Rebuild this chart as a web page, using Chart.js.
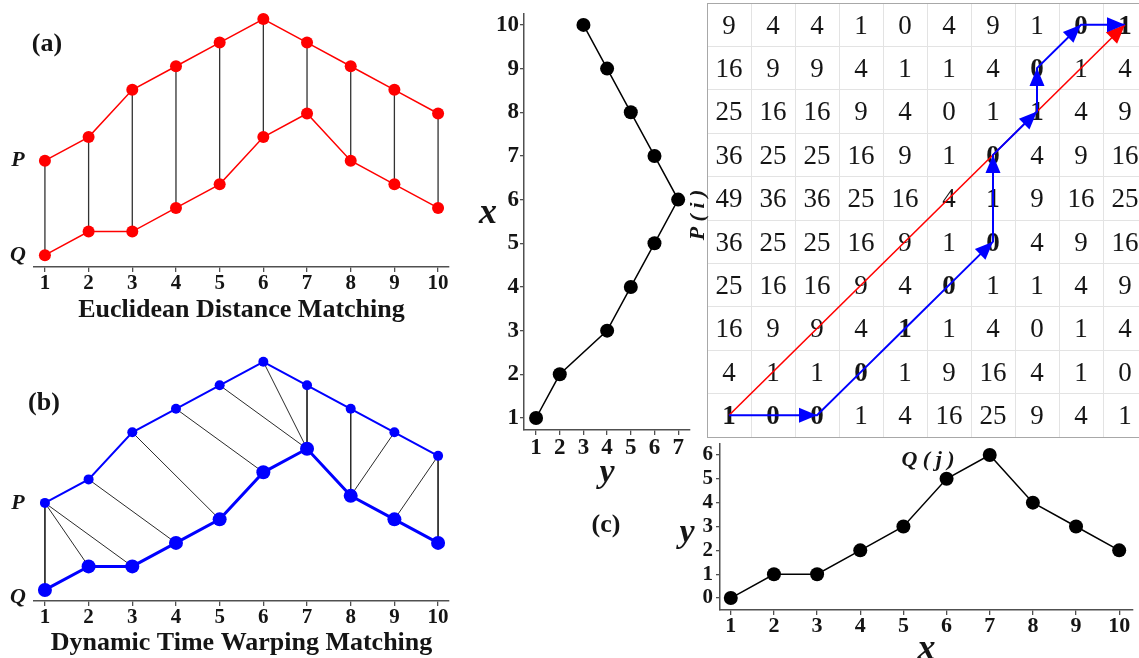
<!DOCTYPE html>
<html><head><meta charset="utf-8">
<script src="https://cdn.jsdelivr.net/npm/chart.js@4.4.1/dist/chart.umd.min.js"></script>
<style>
html,body{margin:0;padding:0;background:#fff;overflow:hidden;width:1139px;height:658px;position:relative;}
canvas{position:absolute;}
</style></head><body>
<canvas id="ca" width="460" height="330" style="left:0;top:0"></canvas>
<canvas id="cb" width="460" height="318" style="left:0;top:340px"></canvas>
<canvas id="cm" width="245" height="560" style="left:460px;top:0"></canvas>
<canvas id="cg" width="460" height="445" style="left:690px;top:0"></canvas>
<canvas id="cq" width="500" height="250" style="left:640px;top:430px"></canvas>
<script>
// ---------- data ----------
const idx = [1, 2, 3, 4, 5, 6, 7, 8, 9, 10];
const P = [1, 2, 4, 5, 6, 7, 6, 5, 4, 3];
const Q = [0, 1, 1, 2, 3, 5, 6, 4, 3, 2];
const idxTicks = [1, 2, 3, 4, 5, 6, 7, 8, 9, 10];
const pTicks = [1, 2, 3, 4, 5, 6, 7];
const qTicks = [0, 1, 2, 3, 4, 5, 6];
// DTW warping path (P index i, Q index j)
const dtwP = [1, 1, 1, 2, 3, 4, 5, 6, 7, 8, 9, 10, 10];
const dtwQ = [1, 2, 3, 4, 5, 6, 7, 7, 7, 8, 8, 9, 10];
const dtwArrowAt = [2, 6, 8, 9, 10, 11, 12];
// distance matrix rows, i = 1 (bottom) .. 10 (top), columns j = 1..10
const distRows = [
  [1, 0, 0, 1, 4, 16, 25, 9, 4, 1],
  [4, 1, 1, 0, 1, 9, 16, 4, 1, 0],
  [16, 9, 9, 4, 1, 1, 4, 0, 1, 4],
  [25, 16, 16, 9, 4, 0, 1, 1, 4, 9],
  [36, 25, 25, 16, 9, 1, 0, 4, 9, 16],
  [49, 36, 36, 25, 16, 4, 1, 9, 16, 25],
  [36, 25, 25, 16, 9, 1, 0, 4, 9, 16],
  [25, 16, 16, 9, 4, 0, 1, 1, 4, 9],
  [16, 9, 9, 4, 1, 1, 4, 0, 1, 4],
  [9, 4, 4, 1, 0, 4, 9, 1, 0, 1]
];
const gridEdges = [0.5, 1.5, 2.5, 3.5, 4.5, 5.5, 6.5, 7.5, 8.5, 9.5, 10.5];
const SHIFT_A = 3;     // vertical display offset of P in panel (a)
const SHIFT_B = 2.7;   // vertical display offset of P in panel (b)

// ---------- style ----------
const SERIF = '"Liberation Serif","Times New Roman",serif';
const AX = '#505050';
const TXT = '#151515';
Chart.defaults.font.family = SERIF;

// ---------- plugins ----------
const textPlugin = {
  id: 'texts',
  afterDraw(chart, args, opts) {
    const ctx = chart.ctx;
    (opts.items || []).forEach(t => {
      let y = t.y;
      if (t.yv !== undefined) y = chart.scales.y.getPixelForValue(t.yv);
      ctx.save();
      ctx.font = t.font;
      ctx.fillStyle = t.color || TXT;
      ctx.textAlign = t.align || 'center';
      ctx.textBaseline = 'middle';
      ctx.translate(t.x, y);
      if (t.rot) ctx.rotate(t.rot);
      ctx.fillText(t.text, 0, 0);
      ctx.restore();
    });
  }
};
const arrowPlugin = {
  id: 'arrows',
  afterDatasetsDraw(chart) {
    const ctx = chart.ctx;
    chart.data.datasets.forEach((ds, di) => {
      if (!ds.arrowAt) return;
      const meta = chart.getDatasetMeta(di);
      ds.arrowAt.forEach(k => {
        const p = meta.data[k], q = meta.data[k - 1];
        const a = Math.atan2(p.y - q.y, p.x - q.x);
        const L = ds.arrowLen || 16, W = ds.arrowHalf || 7;
        ctx.save();
        ctx.translate(p.x, p.y);
        ctx.rotate(a);
        ctx.beginPath();
        ctx.moveTo(0, 0);
        ctx.lineTo(-L, -W);
        ctx.lineTo(-L, W);
        ctx.closePath();
        ctx.fillStyle = ds.borderColor;
        ctx.fill();
        ctx.restore();
      });
    });
  }
};
const matrixPlugin = {
  id: 'matrix',
  beforeDatasetsDraw(chart, args, opts) {
    if (!opts.rows) return;
    const ctx = chart.ctx, sx = chart.scales.x, sy = chart.scales.y;
    const bold = new Set(dtwP.map((i, k) => i + ',' + dtwQ[k]));
    const size = opts.size || 26;
    ctx.save();
    ctx.fillStyle = TXT;
    ctx.textAlign = 'center';
    ctx.textBaseline = 'alphabetic';
    opts.rows.forEach((row, r) => {
      const i = r + 1;
      row.forEach((v, c) => {
        const j = c + 1;
        ctx.font = (bold.has(i + ',' + j) ? 'bold ' : '') + size + 'px ' + SERIF;
        ctx.fillText(String(v), sx.getPixelForValue(j), sy.getPixelForValue(i) + size * 0.33);
      });
    });
    ctx.restore();
  }
};
Chart.register(textPlugin, arrowPlugin, matrixPlugin);

const setTicks = arr => s => { s.ticks = arr.map(v => ({ value: v })); };
const tickFont = sz => ({ family: SERIF, size: sz, weight: 'bold', lineHeight: 1 });
const axisGrid = tl => ({ display: true, drawOnChartArea: false, drawTicks: true, tickLength: tl, color: AX, lineWidth: 1.3 });
const axisBorder = { display: true, color: AX, width: 1.5 };
const base = { responsive: false, animation: false, events: [], devicePixelRatio: 1 };

function line(data, color, lw, r, order) {
  return { data, showLine: true, borderColor: color, backgroundColor: color, borderWidth: lw,
           pointRadius: r, pointBorderWidth: 0, pointHoverRadius: r, clip: false, order };
}
function connector(a, b, color, lw) {
  return { data: [a, b], showLine: true, borderColor: color, borderWidth: lw, pointRadius: 0, clip: false, order: 5 };
}

// ---------- panel (a) ----------
new Chart(document.getElementById('ca'), {
  type: 'scatter',
  data: { datasets: [
    line(idx.map((x, k) => ({ x, y: P[k] + SHIFT_A })), '#ff0000', 1.5, 6, 0),
    line(idx.map((x, k) => ({ x, y: Q[k] })), '#ff0000', 1.5, 6, 0),
    ...idx.map((x, k) => connector({ x, y: P[k] + SHIFT_A }, { x, y: Q[k] }, '#333333', 1.3))
  ]},
  options: { ...base,
    layout: { padding: { left: 34, top: 5, right: 11, bottom: 0 } },
    plugins: { legend: { display: false }, tooltip: { enabled: false },
      texts: { items: [
        { text: '(a)', x: 47, y: 44, font: 'bold 26px ' + SERIF },
        { text: 'P', x: 18, yv: P[0] + SHIFT_A, font: 'italic bold 22px ' + SERIF },
        { text: 'Q', x: 18, yv: Q[0], font: 'italic bold 22px ' + SERIF }
      ]}
    },
    scales: {
      x: { type: 'linear', min: 0.75, max: 10.25, afterBuildTicks: setTicks(idxTicks),
           afterFit: s => { s.height = 330 - 267; },
           grid: axisGrid(5), border: axisBorder,
           ticks: { font: tickFont(21), color: TXT, padding: 1, autoSkip: false, maxRotation: 0 },
           title: { display: true, text: 'Euclidean Distance Matching', color: TXT,
                    font: { family: SERIF, size: 26, weight: 'bold', lineHeight: 1 }, padding: { top: 0, bottom: 7 } } },
      y: { type: 'linear', display: false, min: -0.5, max: 10.55 }
    }
  }
});

// ---------- panel (b) ----------
new Chart(document.getElementById('cb'), {
  type: 'scatter',
  data: { datasets: [
    line(idx.map((x, k) => ({ x, y: P[k] + SHIFT_B })), '#0000ff', 2, 5, 0),
    line(idx.map((x, k) => ({ x, y: Q[k] })), '#0000ff', 3, 7, 0),
    ...dtwP.map((i, k) => connector({ x: i, y: P[i - 1] + SHIFT_B }, { x: dtwQ[k], y: Q[dtwQ[k] - 1] }, '#2a2a2a', 1))
  ]},
  options: { ...base,
    layout: { padding: { left: 34, top: 10, right: 11, bottom: 0 } },
    plugins: { legend: { display: false }, tooltip: { enabled: false },
      texts: { items: [
        { text: '(b)', x: 44, y: 63, font: 'bold 26px ' + SERIF },
        { text: 'P', x: 18, yv: P[0] + SHIFT_B, font: 'italic bold 22px ' + SERIF },
        { text: 'Q', x: 18, y: 257, font: 'italic bold 22px ' + SERIF }
      ]}
    },
    scales: {
      x: { type: 'linear', min: 0.75, max: 10.25, afterBuildTicks: setTicks(idxTicks),
           afterFit: s => { s.height = 318 - 261; },
           grid: axisGrid(5), border: axisBorder,
           ticks: { font: tickFont(21), color: TXT, padding: 1, autoSkip: false, maxRotation: 0 },
           title: { display: true, text: 'Dynamic Time Warping Matching', color: TXT,
                    font: { family: SERIF, size: 26, weight: 'bold', lineHeight: 1 }, padding: { top: 0, bottom: 2 } } },
      y: { type: 'linear', display: false, min: -0.47, max: 10.2 }
    }
  }
});

// ---------- panel (c) left: P vs index (rotated) ----------
new Chart(document.getElementById('cm'), {
  type: 'scatter',
  data: { datasets: [
    line(idx.map((i, k) => ({ x: P[k], y: i })), '#000000', 1.5, 7, 0)
  ]},
  options: { ...base,
    layout: { padding: { left: 0, top: 14, right: 15, bottom: 0 } },
    plugins: { legend: { display: false }, tooltip: { enabled: false },
      texts: { items: [
        { text: 'x', x: 28, y: 214, font: 'italic bold 36px ' + SERIF },
        { text: '(c)', x: 146, y: 525, font: 'bold 26px ' + SERIF }
      ]}
    },
    scales: {
      x: { type: 'linear', min: 0.49, max: 7.5, afterBuildTicks: setTicks(pTicks),
           afterFit: s => { s.height = 560 - 430; },
           grid: axisGrid(5), border: axisBorder,
           ticks: { font: tickFont(23), color: TXT, padding: 2, autoSkip: false, maxRotation: 0 },
           title: { display: true, text: 'y', color: TXT,
                    font: { family: SERIF, size: 34, weight: 'bold', style: 'italic', lineHeight: 1 }, padding: { top: 0, bottom: 70 } } },
      y: { type: 'linear', min: 0.725, max: 10.25, afterBuildTicks: setTicks(idxTicks),
           afterFit: s => { s.width = 64; },
           grid: axisGrid(4), border: axisBorder,
           ticks: { font: tickFont(23), color: TXT, padding: 1, autoSkip: false } }
    }
  }
});

// ---------- panel (c) matrix ----------
new Chart(document.getElementById('cg'), {
  type: 'scatter',
  data: { datasets: [
    Object.assign(line([{ x: 1, y: 1 }, { x: 10, y: 10 }], '#ff0000', 1.6, 0, 1), { arrowAt: [1], arrowLen: 19, arrowHalf: 8 }),
    Object.assign(line(dtwP.map((i, k) => ({ x: dtwQ[k], y: i })), '#0000ff', 2, 0, 0), { arrowAt: dtwArrowAt, arrowLen: 18, arrowHalf: 7.5 })
  ]},
  options: { ...base,
    layout: { padding: { left: 0, top: 3, right: 3, bottom: 0 } },
    plugins: { legend: { display: false }, tooltip: { enabled: false },
      matrix: { rows: distRows, size: 27 },
      texts: { items: [
        { text: 'P ( i )', x: 8, y: 215, rot: -Math.PI / 2, font: 'italic bold 22px ' + SERIF }
      ]}
    },
    scales: {
      x: { type: 'linear', min: 0.5, max: 10.5, afterBuildTicks: setTicks(gridEdges),
           afterFit: s => { s.height = 445 - 437; },
           grid: { color: c => (c.tick && (c.tick.value === 0.5 || c.tick.value === 10.5)) ? '#a8a8a8' : '#e3e3e3', lineWidth: 1, drawTicks: false },
           border: { display: true, color: '#a8a8a8', width: 1 },
           ticks: { display: false } },
      y: { type: 'linear', min: 0.5, max: 10.5, afterBuildTicks: setTicks(gridEdges),
           afterFit: s => { s.width = 17; },
           grid: { color: c => (c.tick && (c.tick.value === 0.5 || c.tick.value === 10.5)) ? '#a8a8a8' : '#e3e3e3', lineWidth: 1, drawTicks: false },
           border: { display: true, color: '#a8a8a8', width: 1 },
           ticks: { display: false } }
    }
  }
});

// ---------- panel (c) bottom: Q vs index ----------
new Chart(document.getElementById('cq'), {
  type: 'scatter',
  data: { datasets: [
    line(idx.map((x, k) => ({ x, y: Q[k] })), '#000000', 1.5, 7, 0)
  ]},
  options: { ...base,
    layout: { padding: { left: 0, top: 14, right: 2, bottom: 0 } },
    plugins: { legend: { display: false }, tooltip: { enabled: false },
      texts: { items: [
        { text: 'Q ( j )', x: 288, y: 30, font: 'italic bold 22px ' + SERIF },
        { text: 'y', x: 47, y: 103, font: 'italic bold 34px ' + SERIF }
      ]}
    },
    scales: {
      x: { type: 'linear', min: 0.75, max: 10.32, afterBuildTicks: setTicks(idxTicks),
           afterFit: s => { s.height = 250 - 180; },
           grid: axisGrid(5), border: axisBorder,
           ticks: { font: tickFont(22), color: TXT, padding: 0, autoSkip: false, maxRotation: 0 },
           title: { display: true, text: 'x', color: TXT,
                    font: { family: SERIF, size: 36, weight: 'bold', style: 'italic', lineHeight: 1 }, padding: { top: 0, bottom: 12 } } },
      y: { type: 'linear', min: -0.5, max: 6.46, afterBuildTicks: setTicks(qTicks),
           afterFit: s => { s.width = 80; },
           grid: axisGrid(4), border: axisBorder,
           ticks: { font: tickFont(21), color: TXT, padding: 3, autoSkip: false } }
    }
  }
});
</script>
</body></html>
